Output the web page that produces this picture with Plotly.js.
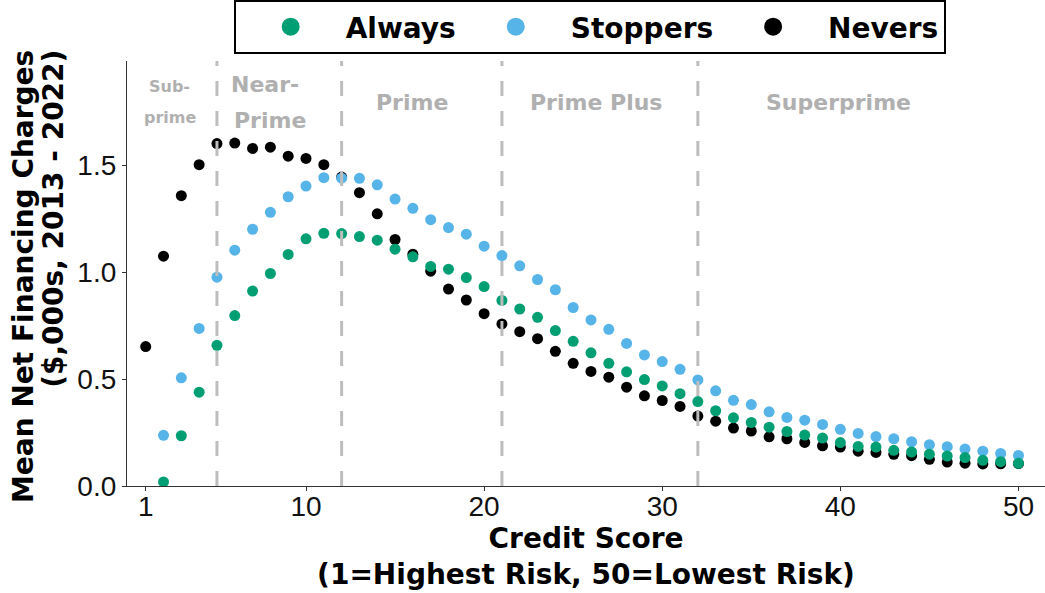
<!DOCTYPE html>
<html>
<head>
<meta charset="utf-8">
<script src="https://cdn.plot.ly/plotly-3.0.1.min.js"></script>
<style>html,body{margin:0;padding:0;background:#fff;}#chart{width:1045px;height:593px;}</style>
</head>
<body>
<div id="chart"></div>
<script>
// ---- data ----
const creditScore = [1,2,3,4,5,6,7,8,9,10,11,12,13,14,15,16,17,18,19,20,21,22,23,24,25,26,27,28,29,30,31,32,33,34,35,36,37,38,39,40,41,42,43,44,45,46,47,48,49,50];
const always = [null,0.019,0.235,0.439,0.658,0.797,0.912,0.994,1.083,1.156,1.182,1.181,1.167,1.150,1.108,1.072,1.027,1.014,0.975,0.933,0.868,0.828,0.789,0.727,0.677,0.623,0.574,0.534,0.498,0.468,0.432,0.395,0.352,0.319,0.297,0.275,0.255,0.238,0.224,0.203,0.185,0.182,0.167,0.159,0.149,0.140,0.133,0.120,0.114,0.106];
const stoppers = [null,0.237,0.506,0.737,0.977,1.103,1.201,1.280,1.353,1.403,1.442,1.440,1.439,1.409,1.342,1.299,1.246,1.209,1.178,1.122,1.078,1.030,0.966,0.918,0.835,0.777,0.733,0.667,0.613,0.582,0.546,0.496,0.445,0.401,0.381,0.347,0.321,0.308,0.288,0.265,0.246,0.231,0.221,0.207,0.193,0.184,0.173,0.163,0.152,0.143];
const nevers = [0.652,1.075,1.358,1.503,1.602,1.604,1.579,1.585,1.543,1.532,1.503,1.445,1.372,1.273,1.153,1.084,1.005,0.921,0.870,0.806,0.758,0.722,0.689,0.630,0.574,0.536,0.509,0.462,0.422,0.400,0.372,0.327,0.303,0.271,0.257,0.230,0.221,0.204,0.188,0.182,0.163,0.157,0.148,0.142,0.125,0.112,0.107,0.103,0.104,0.105];
const seriesNames = ["Always","Stoppers","Nevers"];
const xTickVals = [1,10,20,30,40,50];
const yTickVals = [0,0.5,1.0,1.5];
const segmentBreaks = [5,12,21,32];
const segmentLabels = ["Sub-","prime","Near-","Prime","Prime","Prime Plus","Superprime"];
const yTitleLines = ["Mean Net Financing Charges","($,000s, 2013 - 2022)"];

// ---- styling ----
const colors = {Always:"#009E73", Stoppers:"#56B4E9", Nevers:"#000000"};
const boldFont = "DejaVu Sans";
const regFont = "Liberation Sans, Arial, sans-serif";
const grey = "#b0b0b0";

const pointTraces = [
  {name:"Nevers", y:nevers},
  {name:"Stoppers", y:stoppers},
  {name:"Always", y:always}
].map(s => ({
  type:"scatter", mode:"markers", x:creditScore, y:s.y, name:s.name,
  showlegend:false, marker:{size:11, color:colors[s.name]}, hoverinfo:"x+y+name"
}));

const legendTraces = seriesNames.map(n => ({
  type:"scatter", mode:"markers", x:[null], y:[null], name:n, showlegend:true,
  marker:{size:16, color:colors[n], line:{color:colors[n], width:2}}
}));

// label placement
const xPos = [2.36, 2.40, 7.67, 7.98, 15.94, 26.26, 39.91];
const yPos = [1.871, 1.723, 1.879, 1.708, 1.793, 1.793, 1.793];
const lSize = [16, 16, 22, 22, 22, 22, 22];

const annotations = segmentLabels.map((t,i) => ({
  text:t, x:xPos[i], y:yPos[i], xref:"x", yref:"y", showarrow:false,
  xanchor:"center", yanchor:"middle",
  font:{family:boldFont, size:lSize[i], color:grey, weight:"bold"}
}));
const yTitleX = [-0.113, -0.080];
yTitleLines.forEach((t,i) => annotations.push({
  text:t, xref:"paper", yref:"paper", x:yTitleX[i], y:1.030, xanchor:"center", yanchor:"top",
  textangle:-90, showarrow:false,
  font:{family:boldFont, size:28, color:"#000", weight:"bold"}
}));

const shapes = segmentBreaks.map(b => ({
  type:"line", xref:"x", yref:"paper", x0:b, x1:b, y0:0, y1:1,
  line:{color:"#bdbdbd", width:3, dash:"15px,15px"}, layer:"above"
}));

const layout = {
  width:1045, height:593,
  margin:{l:127, r:0, t:60, b:107, pad:0},
  paper_bgcolor:"#fff", plot_bgcolor:"#fff",
  font:{family:regFont, color:"#000"},
  xaxis:{
    range:[-0.05, 51.49], tickvals:xTickVals, ticktext:xTickVals.map(String),
    showgrid:false, zeroline:false, showline:true, linecolor:"#333", linewidth:1.3,
    ticks:"outside", ticklen:4, tickwidth:1.2, tickcolor:"#333", ticklabelstandoff:-9,
    tickfont:{family:regFont, size:28, color:"#111"},
    title:{text:"Credit Score<br>(1=Highest Risk, 50=Lowest Risk)", standoff:2,
      font:{family:boldFont, size:28, color:"#000", weight:"bold"}},
    automargin:false
  },
  yaxis:{
    range:[0, 1.988], tickvals:yTickVals, tickformat:".1f",
    showgrid:false, zeroline:false, showline:true, linecolor:"#333", linewidth:1.3,
    ticks:"outside", ticklen:4, tickwidth:1.2, tickcolor:"#333",
    tickfont:{family:regFont, size:28, color:"#111"},
    automargin:false
  },
  legend:{
    orientation:"h", x:0.504, xanchor:"center", y:1.143, yanchor:"top",
    bgcolor:"#fff", bordercolor:"#000", borderwidth:2, itemwidth:100,
    font:{family:boldFont, size:28, color:"#000", weight:"bold"},
    traceorder:"normal"
  },
  shapes:shapes,
  annotations:annotations
};

Plotly.newPlot("chart", pointTraces.concat(legendTraces), layout, {displayModeBar:false, responsive:false});
</script>
</body>
</html>
